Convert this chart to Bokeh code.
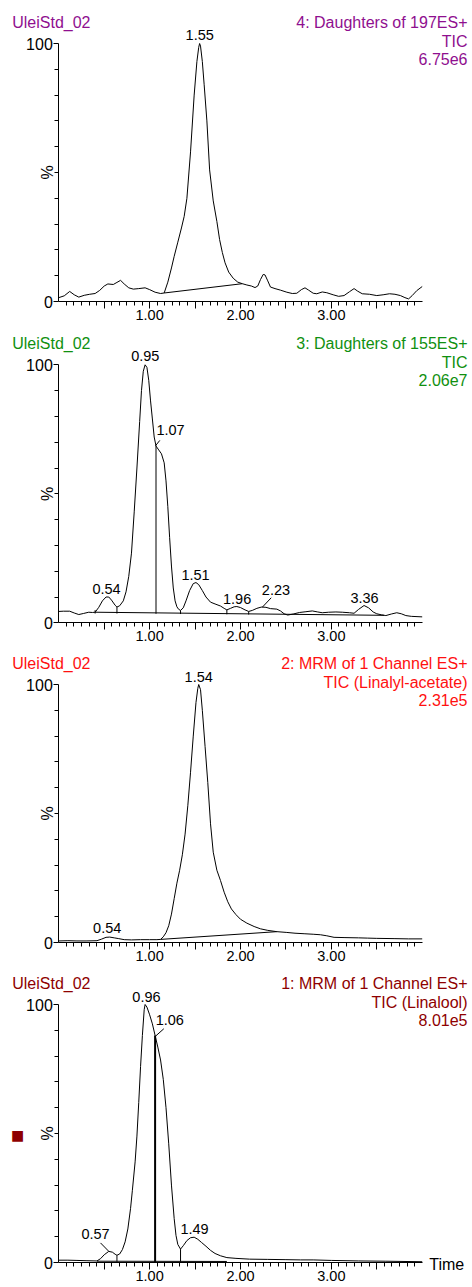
import math
from bokeh.plotting import figure
from bokeh.layouts import column
from bokeh.models import Range1d, FixedTicker, Label, LabelSet, ColumnDataSource
from bokeh.core.properties import value
from bokeh.embed import file_html
from bokeh.resources import INLINE

FONT = "Liberation Sans"

# ---------------- axes ----------------
x_major_ticks = [0.5, 1.0, 1.5, 2.0, 2.5, 3.0, 3.5]
x_major_labels = ["", "1.00", "", "2.00", "", "3.00", ""]
x_minor_ticks = [i / 12 for i in range(1, 48)]
y_major_ticks = [0, 100]
y_minor_ticks = [10, 20, 30, 40, 50, 60, 70, 80, 90]
sample_name = "UleiStd_02"

# ---------------- panel 1 : 4: Daughters of 197ES+ ----------------
p1_head = ["4: Daughters of 197ES+", "TIC", "6.75e6"]
p1_t = [0.00,0.06,0.12,0.17,0.22,0.28,0.34,0.40,0.45,0.50,0.54,0.60,0.64,0.68,0.72,0.77,0.82,0.88,0.95,1.00,
        1.06,1.12,1.16,1.20,1.24,1.27,1.31,1.35,1.38,1.41,1.45,1.49,1.52,1.54,1.55,1.56,1.58,1.60,1.63,1.66,
        1.70,1.74,1.77,1.80,1.83,1.87,1.92,1.97,2.02,2.07,2.12,2.16,2.19,2.22,2.25,2.27,2.30,2.33,2.38,2.44,
        2.51,2.57,2.62,2.67,2.71,2.75,2.80,2.84,2.90,2.95,3.02,3.08,3.14,3.20,3.25,3.29,3.34,3.42,3.50,3.57,
        3.64,3.70,3.76,3.81,3.85,3.89,3.94,4.00]
p1_y = [1.5,2.2,3.9,2.6,1.7,2.4,2.8,3.1,4.3,6.0,6.8,6.6,7.4,8.2,6.8,5.3,4.8,5.0,5.3,4.6,
        3.6,3.1,3.3,7.5,13.0,17.5,23.0,28.5,33.0,40.0,58.0,80.0,93.0,98.5,100.0,99.0,93.0,84.0,70.0,51.0,
        39.0,31.0,24.0,19.0,15.0,11.4,9.0,7.5,6.9,6.4,6.0,5.4,6.0,8.5,10.5,10.3,8.0,5.6,5.0,4.4,
        3.6,3.1,3.2,4.6,5.3,4.4,3.2,3.0,3.7,3.4,2.6,2.0,2.3,3.8,5.0,4.0,3.0,2.8,2.3,2.6,
        3.0,2.8,2.3,1.5,1.0,2.3,4.2,5.8]
p1_peak_txt = ["1.55"]
p1_peak_t = [1.551]
p1_peak_y = [101.2]
p1_base_t = [1.16, 2.02]
p1_base_y = [3.3, 6.9]

# ---------------- panel 2 : 3: Daughters of 155ES+ ----------------
p2_head = ["3: Daughters of 155ES+", "TIC", "2.06e7"]
p2_t = [0.00,0.05,0.12,0.17,0.22,0.27,0.33,0.37,0.40,0.44,0.48,0.52,0.55,0.58,0.62,0.64,0.67,0.71,0.74,0.77,
        0.80,0.83,0.86,0.89,0.91,0.93,0.95,0.97,0.99,1.01,1.03,1.05,1.07,1.10,1.13,1.16,1.18,1.20,1.22,1.24,
        1.26,1.28,1.30,1.32,1.34,1.37,1.40,1.44,1.48,1.51,1.54,1.58,1.62,1.67,1.72,1.78,1.82,1.85,1.89,1.93,
        1.96,2.00,2.05,2.09,2.13,2.18,2.23,2.28,2.33,2.40,2.44,2.48,2.52,2.58,2.65,2.72,2.79,2.85,2.90,2.97,
        3.05,3.12,3.20,3.25,3.30,3.36,3.41,3.46,3.50,3.55,3.60,3.66,3.72,3.77,3.82,3.88,4.00]
p2_y = [4.4,4.5,4.5,3.8,3.2,3.6,4.1,4.0,4.1,6.0,8.5,10.0,10.0,8.8,6.8,6.1,6.6,8.5,12.0,18.0,
        27.0,43.0,60.0,78.0,90.0,97.5,100.0,99.0,94.0,86.0,79.0,72.0,68.5,67.0,65.5,62.0,55.0,45.0,33.0,22.0,
        13.5,8.5,6.2,5.2,4.8,5.8,8.5,12.5,15.2,15.6,14.8,12.5,10.0,8.0,7.3,6.5,5.6,5.0,5.6,6.2,
        6.3,5.9,5.0,4.4,4.8,5.6,6.1,6.0,5.5,5.3,4.6,3.5,3.0,3.4,4.0,4.3,4.6,4.2,3.9,4.1,
        4.2,4.1,3.9,3.7,5.2,6.7,5.8,4.2,3.5,3.1,2.8,3.4,3.9,3.5,2.8,2.5,2.3]
p2_peak_txt = ["0.54", "0.95", "1.07", "1.51", "1.96", "2.23", "3.36"]
p2_peak_t = [0.525, 0.952, 1.23, 1.505, 1.963, 2.39, 3.365]
p2_peak_y = [11.2, 101.4, 72.9, 16.6, 7.4, 10.6, 7.8]
p2_base_t = [0.40, 3.58]
p2_base_y = [4.1, 2.9]
p2_drop_t = [0.40, 0.64, 1.07, 1.34, 1.85, 2.09]
p2_drop_top = [4.9, 6.1, 68.5, 4.8, 5.0, 4.4]
p2_drop_bot = [3.6, 3.6, 3.5, 3.4, 3.3, 3.2]
p2_lead_t0 = [1.064, 2.239]
p2_lead_y0 = [68.6, 6.0]
p2_lead_t1 = [1.112, 2.338]
p2_lead_y1 = [70.7, 9.7]

# ---------------- panel 3 : 2: MRM (Linalyl-acetate) ----------------
p3_head = ["2: MRM of 1 Channel ES+", "TIC (Linalyl-acetate)", "2.31e5"]
p3_t = [0.00,0.10,0.20,0.30,0.42,0.47,0.52,0.56,0.61,0.66,0.72,0.80,0.90,1.00,1.08,1.12,1.15,1.18,1.21,1.24,
        1.27,1.30,1.33,1.36,1.39,1.42,1.45,1.48,1.51,1.53,1.54,1.56,1.58,1.61,1.64,1.67,1.70,1.74,1.78,1.82,
        1.86,1.90,1.95,2.00,2.07,2.15,2.22,2.30,2.40,2.51,2.60,2.70,2.80,2.88,2.95,3.03,3.15,3.30,3.40,3.50,
        3.70,3.85,4.00]
p3_y = [0.6,0.7,0.6,0.6,0.7,1.3,2.0,2.1,1.8,1.5,1.1,1.0,1.1,1.1,1.1,1.2,2.2,3.8,6.5,11.0,
        17.0,23.0,28.0,34.0,42.0,53.0,66.0,80.0,93.0,98.5,100.0,98.0,90.0,76.0,62.0,46.0,35.0,28.0,24.0,19.5,
        15.8,13.0,10.8,9.0,7.5,6.2,5.3,4.7,4.2,3.9,3.6,3.4,3.2,3.0,2.6,2.0,1.9,1.8,1.7,1.6,
        1.5,1.4,1.4]
p3_peak_txt = ["0.54", "1.54"]
p3_peak_t = [0.533, 1.54]
p3_peak_y = [3.6, 101.0]
p3_base_t = [1.12, 2.40]
p3_base_y = [1.2, 4.2]

# ---------------- panel 4 : 1: MRM (Linalool) ----------------
p4_head = ["1: MRM of 1 Channel ES+", "TIC (Linalool)", "8.01e5"]
p4_t = [0.00,0.10,0.20,0.30,0.42,0.46,0.50,0.55,0.59,0.62,0.64,0.67,0.70,0.73,0.76,0.79,0.81,0.84,0.86,0.88,
        0.90,0.92,0.94,0.95,0.97,1.00,1.03,1.06,1.09,1.12,1.15,1.18,1.21,1.24,1.27,1.29,1.31,1.34,1.37,1.41,
        1.45,1.49,1.53,1.57,1.62,1.67,1.72,1.78,1.85,1.95,2.10,2.30,2.50,2.66,2.80,3.00,3.30,3.60,4.00]
p4_y = [0.9,0.9,0.8,0.7,0.6,1.5,3.0,4.3,4.0,3.2,2.8,3.3,5.0,8.0,13.0,21.0,28.0,39.0,49.0,62.0,
        76.0,88.0,98.0,100.0,99.0,96.0,92.5,88.0,83.5,78.5,71.0,60.0,46.0,30.0,17.0,10.5,7.0,5.2,6.5,8.5,
        9.6,9.8,9.0,7.8,6.3,4.7,3.5,2.6,1.9,1.6,1.3,1.2,1.1,1.0,1.0,0.8,0.6,0.5,0.3]
p4_peak_txt = ["0.57", "0.96", "1.06", "1.49"]
p4_peak_t = [0.404, 0.965, 1.222, 1.494]
p4_peak_y = [9.0, 100.8, 91.9, 11.0]
p4_base_t = [0.42, 1.85]
p4_base_y = [0.5, 0.4]
p4_drop_t = [0.64, 1.06, 1.34]
p4_drop_top = [2.8, 88.0, 5.2]
p4_drop_bot = [0.3, 0.0, 0.3]
p4_lead_t0 = [0.551, 1.064]
p4_lead_y0 = [4.3, 87.7]
p4_lead_t1 = [0.459, 1.156]
p4_lead_y1 = [7.6, 90.6]

colors = ["#8f0f8f", "#109010", "#ff1010", "#8e0000"]

# ---------------- layout constants (pixels) ----------------
W = 470            # figure width
AXIS_LEFT = 58.3   # px from figure left to t = 0
PX_X = 90.85       # px per minute
PX_Y = 2.58        # px per percent
X_START = -AXIS_LEFT / PX_X
X_END = X_START + W / PX_X


def make_panel(t, y, color, head, height, zero_px, pk_txt, pk_t, pk_y, base_t, base_y,
               drop_t=None, drop_top=None, drop_bot=None, drop_w=None,
               lead=None, last=False):
    # zero_px: distance from figure top to the 0 % line
    y_start = -(height - zero_px) / PX_Y
    y_end = zero_px / PX_Y
    p = figure(width=W, height=height, x_range=Range1d(X_START, X_END),
               y_range=Range1d(y_start, y_end),
               output_backend="svg", toolbar_location=None,
               min_border=0, min_border_left=0, min_border_right=0,
               min_border_top=0, min_border_bottom=0)
    p.grid.visible = False
    p.outline_line_color = None
    p.background_fill_color = "white"
    p.border_fill_color = "white"

    xa = p.xaxis[0]
    xa.fixed_location = 0
    xa.bounds = (0, 4.0)
    xa.ticker = FixedTicker(ticks=x_major_ticks, minor_ticks=x_minor_ticks)
    xa.major_label_overrides = {k: v for k, v in zip(x_major_ticks, x_major_labels)}
    xa.major_tick_in = 0
    xa.major_tick_out = 7
    xa.minor_tick_in = 0
    xa.minor_tick_out = 4
    xa.major_label_standoff = 1
    xa.major_label_text_font = FONT
    xa.major_label_text_font_size = "14.5px"
    xa.major_label_text_color = "black"
    xa.axis_line_color = "black"
    xa.major_tick_line_color = "black"
    xa.minor_tick_line_color = "black"

    ya = p.yaxis[0]
    ya.fixed_location = 0
    ya.bounds = (0, 100)
    ya.ticker = FixedTicker(ticks=y_major_ticks, minor_ticks=y_minor_ticks)
    ya.major_tick_in = 0
    ya.major_tick_out = 5
    ya.minor_tick_in = 0
    ya.minor_tick_out = 4
    ya.major_label_standoff = 1
    ya.major_label_text_font = FONT
    ya.major_label_text_font_size = "16px"
    ya.major_label_text_color = "black"
    ya.axis_line_color = "black"
    ya.major_tick_line_color = "black"
    ya.minor_tick_line_color = "black"

    # chromatogram trace
    p.line(t, y, line_color="black", line_width=1)
    # integration baseline
    p.line(base_t, base_y, line_color="black", line_width=1)
    # peak boundaries / split lines
    if drop_t is not None:
        widths = drop_w if drop_w is not None else [1] * len(drop_t)
        p.segment(x0=drop_t, y0=drop_bot, x1=drop_t, y1=drop_top,
                  line_color="black", line_width=widths)
    if lead is not None:
        p.segment(x0=lead[0], y0=lead[1], x1=lead[2], y1=lead[3],
                  line_color="black", line_width=1)

    # peak labels
    src = ColumnDataSource(dict(x=pk_t, y=pk_y, text=pk_txt))
    p.add_layout(LabelSet(x="x", y="y", text="text", source=src, text_align="center",
                          text_baseline="alphabetic", text_font=value(FONT),
                          text_font_size=value("14.5px"), text_color=value("black")))

    # header texts
    p.add_layout(Label(x=-46.6 / PX_X, y=100 + 21 / PX_Y, text=sample_name,
                       text_color=color, text_font=FONT, text_font_size="16px",
                       text_align="left", text_baseline="alphabetic"))
    for line, off in zip(head, [21, 2, -15]):
        p.add_layout(Label(x=408.7 / PX_X, y=100 + off / PX_Y, text=line,
                           text_color=color, text_font=FONT, text_font_size="16px",
                           text_align="right", text_baseline="alphabetic"))
    # "%" axis title
    p.add_layout(Label(x=-11.6 / PX_X, y=50, text="%", angle=math.pi / 2,
                       text_color="black", text_font=FONT, text_font_size="16px",
                       text_align="center", text_baseline="middle"))
    if last:
        p.add_layout(Label(x=4.0 + 7 / PX_X, y=-0.7, text="Time", text_color="black",
                           text_font=FONT, text_font_size="16px",
                           text_align="left", text_baseline="middle"))
        p.add_layout(Label(x=-41.3 / PX_X, y=50 - 1 / PX_Y, text="\u25a0", text_color=color,
                           text_font="DejaVu Sans", text_font_size="14px",
                           text_align="center", text_baseline="middle"))
    return p


f1 = make_panel(p1_t, p1_y, colors[0], p1_head, 327, 301.0, p1_peak_txt, p1_peak_t, p1_peak_y,
                p1_base_t, p1_base_y)
f2 = make_panel(p2_t, p2_y, colors[1], p2_head, 321, 295.3, p2_peak_txt, p2_peak_t, p2_peak_y,
                p2_base_t, p2_base_y, p2_drop_t, p2_drop_top, p2_drop_bot, None,
                (p2_lead_t0, p2_lead_y0, p2_lead_t1, p2_lead_y1))
f3 = make_panel(p3_t, p3_y, colors[2], p3_head, 320, 294.0, p3_peak_txt, p3_peak_t, p3_peak_y,
                p3_base_t, p3_base_y)
f4 = make_panel(p4_t, p4_y, colors[3], p4_head, 318, 294.0, p4_peak_txt, p4_peak_t, p4_peak_y,
                p4_base_t, p4_base_y, p4_drop_t, p4_drop_top, p4_drop_bot, [1, 2, 1],
                (p4_lead_t0, p4_lead_y0, p4_lead_t1, p4_lead_y1), last=True)

layout = column(f1, f2, f3, f4)
open("out.html", "w").write(file_html(layout, INLINE))
